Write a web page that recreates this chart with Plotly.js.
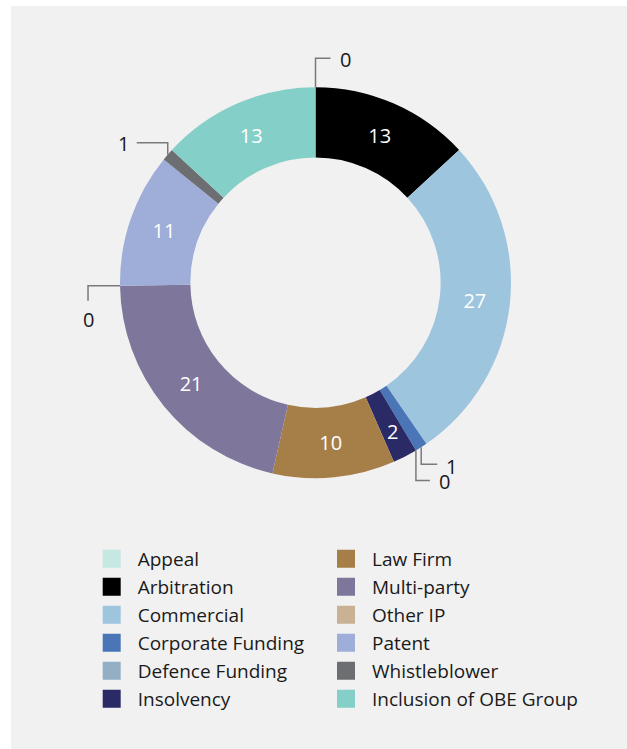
<!DOCTYPE html>
<html>
<head>
<meta charset="utf-8">
<script src="https://cdn.plot.ly/plotly-3.0.1.min.js"></script>
<style>html,body{margin:0;padding:0;background:#fff;}#chart{width:627px;height:749px;}</style>
</head>
<body>
<div id="chart"></div>
<script>
// ---- data ----
const categories = ['Appeal','Arbitration','Commercial','Corporate Funding','Defence Funding','Insolvency','Law Firm','Multi-party','Other IP','Patent','Whistleblower','Inclusion of OBE Group'];
const values = [0, 13, 27, 1, 0, 2, 10, 21, 0, 11, 1, 13];
const colors = ['#c5e8e3','#000000','#9ec5de','#4a76b8','#93afc5','#2a2a66','#a67f48','#7e779b','#c9b294','#9eaed9','#6d6e71','#84d0c9'];
const legend1 = categories.slice(0, 6);
const legend2 = categories.slice(6);

// ---- geometry / style (pixels) ----
const W = 627, H = 749;
const CX = 315.5, CY = 282.7, R = 195.5, HOLE = 0.64;
const FONT = 'Open Sans, sans-serif';
// callout leader style: first segment, second segment, label offset
const calloutStyle = {
  'Appeal':            {s1:[0,-29], s2:[15,0],  lab:{dx:8,  dy:1,  xa:'left',   ya:'middle'}},
  'Whistleblower':     {s1:[0,-12], s2:[-31,0], lab:{dx:-7, dy:1,  xa:'right',  ya:'middle'}},
  'Other IP':          {s1:[-32,0], s2:[0,15],  lab:{dx:0,  dy:4,  xa:'center', ya:'top'}},
  'Corporate Funding': {s1:[0,17],  s2:[16,0],  lab:{dx:8,  dy:2,  xa:'left',   ya:'middle'}},
  'Defence Funding':   {s1:[0,30],  s2:[14,0],  lab:{dx:8,  dy:1,  xa:'left',   ya:'middle'}}
};
// narrow slices whose white label is placed on the ring (radius in px)
const ringLabelStyle = {'Insolvency': {r:167}};

const total = values.reduce((a, b) => a + b, 0);
const shapes = [{type:'rect', xref:'x', yref:'y', x0:11, x1:W, y0:6, y1:H, fillcolor:'#f1f1f1', line:{width:0}, layer:'below'}];
const annotations = [];
let cum = 0;
categories.forEach((c, i) => {
  const v = values[i];
  const th = (cum + v / 2) / total * 2 * Math.PI;
  const st = calloutStyle[c];
  if (st) {
    const px = CX + R * Math.sin(th), py = CY - R * Math.cos(th);
    const p1x = px + st.s1[0], p1y = py + st.s1[1];
    const p2x = p1x + st.s2[0], p2y = p1y + st.s2[1];
    shapes.push({type:'path', xref:'x', yref:'y', path:`M${px},${py} L${p1x},${p1y} L${p2x},${p2y}`, line:{color:'#7a7a7a', width:1.5}});
    annotations.push({xref:'x', yref:'y', x:p2x + st.lab.dx, y:p2y + st.lab.dy, text:String(v), showarrow:false,
      xanchor:st.lab.xa, yanchor:st.lab.ya, font:{family:FONT, size:20, color:'#1a1a1a'}, borderpad:0});
  }
  const rl = ringLabelStyle[c];
  if (rl) {
    annotations.push({xref:'x', yref:'y', x:CX + rl.r * Math.sin(th), y:CY - rl.r * Math.cos(th), text:String(v), showarrow:false,
      xanchor:'center', yanchor:'middle', font:{family:FONT, size:20, color:'#ffffff'}, borderpad:0});
  }
  cum += v;
});

const traces = [{
  type:'pie', labels:categories, values:values, sort:false, direction:'clockwise', rotation:0,
  hole:HOLE, marker:{colors:colors, line:{width:0}},
  domain:{x:[(CX - R) / W, (CX + R) / W], y:[(H - CY - R) / H, (H - CY + R) / H]},
  texttemplate:'%{value}',
  textposition: categories.map((c, i) => (values[i] >= 2 && !ringLabelStyle[c]) ? 'inside' : 'none'),
  insidetextorientation:'horizontal', textfont:{family:FONT, size:20, color:'#ffffff'},
  showlegend:false, hoverinfo:'label+value'
}];
categories.forEach((c, i) => {
  traces.push({type:'scatter', x:[null], y:[null], mode:'markers', name:c,
    marker:{symbol:'square', size:16, color:colors[i], line:{width:2, color:colors[i]}},
    legend: legend1.includes(c) ? 'legend' : 'legend2', legendgroup:'g' + i, showlegend:true, hoverinfo:'skip'});
});

const legendBase = {xanchor:'left', yanchor:'top', bgcolor:'rgba(0,0,0,0)', borderwidth:0, itemwidth:42,
  font:{family:FONT, size:19, color:'#1a1a1a'}, tracegroupgap:0.3, orientation:'v'};

const layout = {
  width:W, height:H, margin:{l:0, r:0, t:0, b:0}, paper_bgcolor:'#ffffff', plot_bgcolor:'rgba(0,0,0,0)',
  xaxis:{range:[0, W], visible:false, fixedrange:true, domain:[0,1]},
  yaxis:{range:[H, 0], visible:false, fixedrange:true, domain:[0,1]},
  shapes:shapes, annotations:annotations,
  legend:Object.assign({}, legendBase, {x:85.7 / W, y:1 - 539.8 / H}),
  legend2:Object.assign({}, legendBase, {x:320 / W, y:1 - 539.8 / H}),
  font:{family:FONT}
};
Plotly.newPlot('chart', traces, layout, {displayModeBar:false, staticPlot:true});
</script>
</body>
</html>
